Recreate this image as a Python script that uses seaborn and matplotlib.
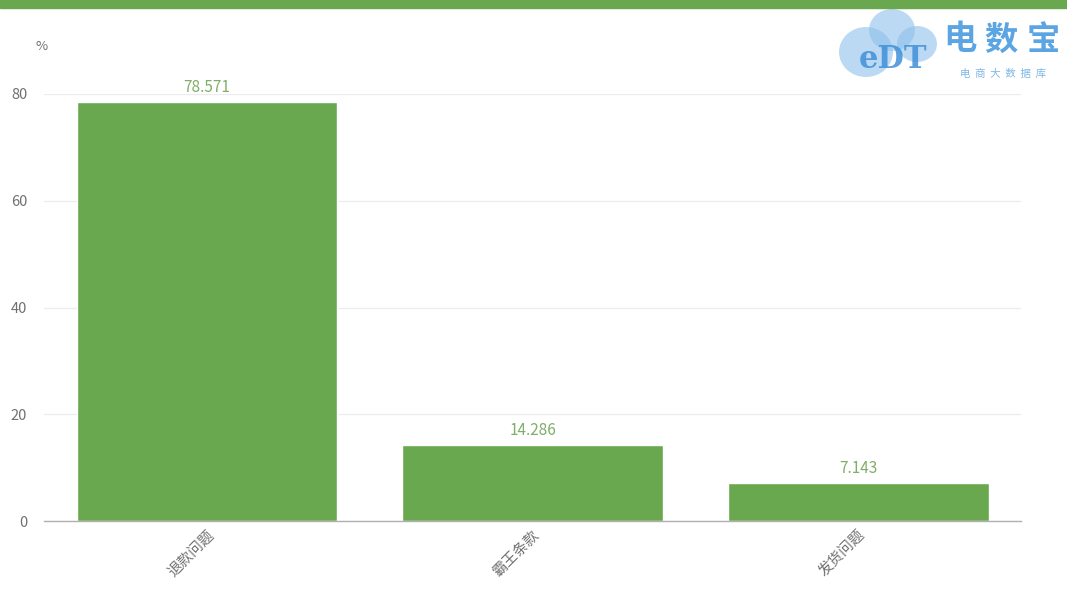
import matplotlib
matplotlib.use("Agg")
import matplotlib.pyplot as plt
from matplotlib.patches import Ellipse, Rectangle
import seaborn as sns
import pandas as pd

categories = ["退款问题", "霸王条款", "发货问题"]
values = [78.571, 14.286, 7.143]
value_labels = ["78.571", "14.286", "7.143"]
y_ticks = [0, 20, 40, 60, 80]

sns.set_theme(style="white")
plt.rcParams["font.family"] = ["Noto Sans CJK SC", "DejaVu Sans"]

GREEN = "#6aa84f"
df = pd.DataFrame({"category": categories, "value": values})

fig = plt.figure(figsize=(10.67, 5.9), dpi=100)
ax = fig.add_axes([0.0412, 0.1169, 0.9158, 0.7238])

sns.barplot(data=df, x="category", y="value", color=GREEN, saturation=1,
            width=0.8, ax=ax)

ax.set_xlim(-0.5, 2.5)
ax.set_ylim(0, 80)
ax.set_yticks(y_ticks)
ax.set_yticklabels([str(t) for t in y_ticks], color="#707070", fontsize=10.5)
ax.yaxis.grid(True, color="#ececec", linewidth=0.9)
ax.set_axisbelow(True)
ax.set_xlabel("")
ax.set_ylabel("")
for side in ("top", "right", "left"):
    ax.spines[side].set_visible(False)
ax.spines["bottom"].set_color("#b0b0b0")
ax.spines["bottom"].set_linewidth(1.0)
ax.tick_params(axis="y", length=0, pad=12)
ax.tick_params(axis="x", length=0, pad=5)
for lbl in ax.get_xticklabels():
    lbl.set_rotation(45)
    lbl.set_ha("right")
    lbl.set_rotation_mode("anchor")
    lbl.set_fontsize(10.5)
    lbl.set_color("#707070")

for patch, text in zip(ax.patches, value_labels):
    ax.annotate(text, (patch.get_x() + patch.get_width() / 2, patch.get_height()),
                xytext=(0, 4), textcoords="offset points",
                ha="center", va="bottom", fontsize=11, color="#80ad68",
                clip_on=False)

# unit label above the value axis
fig.text(42 / 1067, 1 - 47 / 590, "%", fontsize=9.5, color="#707070",
         ha="center", va="center")

# green band along the top edge
fig.add_artist(Rectangle((0, 1 - 8 / 590), 1, 8 / 590, transform=fig.transFigure,
                         color=GREEN, zorder=5))

# brand mark in the upper right corner
cloud = "#8fc1ea"
for cx, cy, w, h in [(866, 52, 54, 50), (892, 30, 46, 42), (917, 44, 40, 36)]:
    fig.add_artist(Ellipse((cx / 1067, 1 - cy / 590), w / 1067, h / 590,
                           transform=fig.transFigure, color=cloud, alpha=0.6,
                           zorder=4, lw=0))
fig.text(893 / 1067, 1 - 60 / 590, "eDT", fontsize=22, color="#3f8fd8",
         fontfamily="DejaVu Serif", fontweight="bold", ha="center", va="center",
         alpha=0.85, zorder=6)
for ch, px in zip("电数宝", (960, 1001, 1043)):
    fig.text(px / 1067, 1 - 40 / 590, ch, fontsize=24, color="#4a9be0",
             ha="center", va="center", fontweight="bold", alpha=0.9)
fig.text(1003 / 1067, 1 - 74 / 590, "电  商  大  数  据  库", fontsize=7.5,
         color="#7fb6e6", ha="center", va="center")

fig.savefig("out.png", dpi=100, facecolor="white")
